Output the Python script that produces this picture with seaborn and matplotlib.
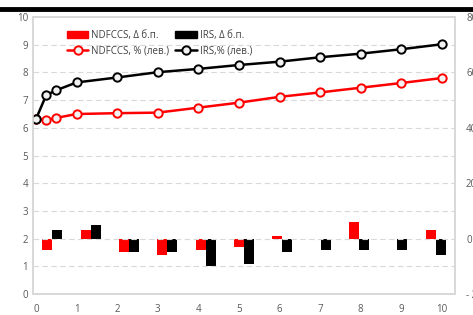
import numpy as np
import pandas as pd
import matplotlib.pyplot as plt
from matplotlib.lines import Line2D
from matplotlib.patches import Patch
import seaborn as sns

# curve points, % (left axis)
tenor = [0, 0.25, 0.5, 1, 2, 3, 4, 5, 6, 7, 8, 9, 10]
ndfccs_rate = [6.32, 6.28, 6.36, 6.50, 6.53, 6.55, 6.73, 6.91, 7.12, 7.28, 7.45, 7.62, 7.80]
irs_rate = [6.32, 7.18, 7.36, 7.64, 7.82, 8.01, 8.13, 8.27, 8.39, 8.55, 8.68, 8.84, 9.02]

# changes, b.p. (right axis), one pair per bucket
bucket = list(range(11))
ndfccs_chg = [-4, 3, -5, -6, -4, -3, 1, 0, 6, 0, 3]
irs_chg = [3, 5, -5, -5, -10, -9, -5, -4, -4, -4, -6]

left_ticks = list(range(0, 11))
right_ticks = [-20, 0, 20, 40, 60, 80]
right_labels = ["- 20", "0", "20", "40", "60", "80"]

RED = "#ff0000"
BLACK = "#000000"
TXT = "#595959"

sns.set_style("white")
plt.rcParams["font.family"] = ["Open Sans", "DejaVu Sans"]

fig = plt.figure(figsize=(4.73, 3.15), dpi=100)
ax = fig.add_axes([0.0698, 0.0667, 0.892, 0.879])
ax2 = ax.twinx()
ax3 = ax2.twiny()

# bars on their own category axis
bars = pd.DataFrame({
    "bucket": bucket * 2,
    "chg": ndfccs_chg + irs_chg,
    "series": ["NDFCCS"] * len(bucket) + ["IRS"] * len(bucket),
})
sns.barplot(data=bars, x="bucket", y="chg", hue="series", order=bucket,
            palette={"NDFCCS": RED, "IRS": BLACK}, width=0.52, ax=ax3,
            legend=False, saturation=1, linewidth=0)
ax3.set_xlim(-0.5, len(bucket) - 0.5)
ax3.set_xticks([])
ax3.set_xlabel("")
ax3.set_ylabel("")
ax2.set_ylim(-20, 80)
ax2.set_yticks(right_ticks)
ax2.set_yticklabels(right_labels)
ax2.tick_params(axis="y", length=0, pad=8, labelsize=7, labelcolor=TXT)
ax2.set_ylabel("")

# lines on the left axis
curves = pd.DataFrame({"tenor": tenor, "ndfccs": ndfccs_rate, "irs": irs_rate})
ax.set_zorder(ax3.get_zorder() + 1)
ax.patch.set_visible(False)
sns.lineplot(data=curves, x="tenor", y="ndfccs", color=RED, lw=1.8, marker="o",
             markersize=6, markerfacecolor="#f2f2f2", markeredgecolor=RED,
             markeredgewidth=1.4, ax=ax)
sns.lineplot(data=curves, x="tenor", y="irs", color=BLACK, lw=1.8, marker="o",
             markersize=6, markerfacecolor="#f2f2f2", markeredgecolor=BLACK,
             markeredgewidth=1.4, ax=ax)
ax.set_xlim(-0.074, 10.32)
ax.set_ylim(0, 10)
ax.set_xticks(range(0, 11))
ax.set_yticks(left_ticks)
ax.set_xlabel("")
ax.set_ylabel("")
ax.tick_params(length=0, labelsize=7, labelcolor=TXT)
ax.tick_params(axis="x", pad=7)
for y in left_ticks[1:-1]:
    ax.axhline(y, color="#d9d9d9", lw=0.8, ls=(0, (5, 3)), zorder=0)

for a in (ax, ax2, ax3):
    for s in a.spines.values():
        s.set_color("#d9d9d9")
        s.set_linewidth(1.2)

handles = [
    Patch(color=RED, label="NDFCCS, Δ б.п."),
    Line2D([], [], color=RED, lw=1.8, marker="o", markersize=6,
           markerfacecolor="#f2f2f2", markeredgewidth=1.4, label="NDFCCS, % (лев.)"),
    Patch(color=BLACK, label="IRS, Δ б.п."),
    Line2D([], [], color=BLACK, lw=1.8, marker="o", markersize=6,
           markerfacecolor="#f2f2f2", markeredgewidth=1.4, label="IRS,% (лев.)"),
]
leg = ax.legend(handles=handles, ncol=2, loc="upper left", bbox_to_anchor=(0.06, 0.985),
                frameon=False, fontsize=7, handlelength=2.2, handleheight=0.6,
                columnspacing=0.6, handletextpad=0.3, labelspacing=0.45)
for t in leg.get_texts():
    t.set_color("#404040")

# heavy rule along the top edge
fig.add_artist(Line2D([0.0, 1.0], [0.972, 0.972], color="black", lw=3.5))

fig.savefig("out.png", dpi=100)
